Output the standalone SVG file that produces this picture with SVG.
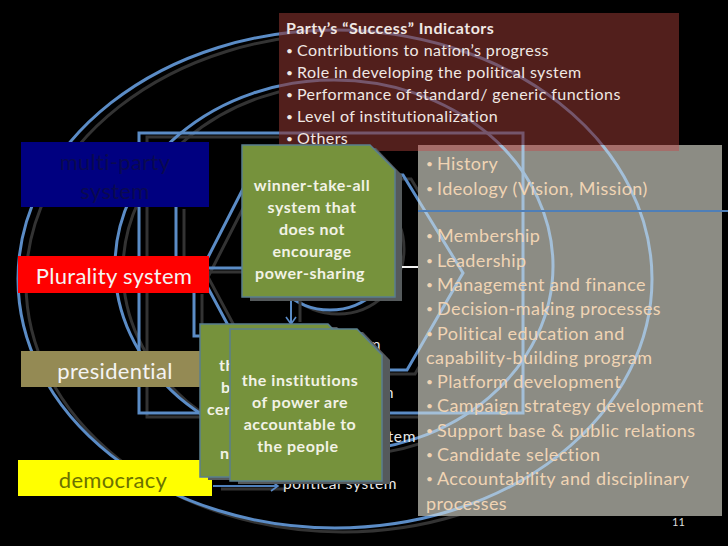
<svg xmlns="http://www.w3.org/2000/svg" width="728" height="546" viewBox="0 0 728 546">
<style>
text{font-family:"Lato","Carlito","Liberation Sans",sans-serif}
.lbl{font-size:22px;text-anchor:middle;fill:#f4f4f4;letter-spacing:.3px}
.gt{font-size:16px;font-weight:700;fill:#f2f2e6;text-anchor:middle;letter-spacing:.55px}
.mt{font-size:16px;fill:#f0e8e4;letter-spacing:.44px}
.ht{font-size:18px;fill:#f0d4b4;letter-spacing:.42px}
.pt{font-size:15.5px;fill:#e8e8e8;letter-spacing:.6px}
.b{font-size:12px;letter-spacing:0}
.grn{fill:#76923c;stroke:#5a7f8f;stroke-width:1.5}
.shd{fill:#555a5c}
</style>
<defs>
<g id="lines" fill="none" stroke-width="3">
<ellipse cx="335" cy="279" rx="317" ry="249"/>
<ellipse cx="334" cy="266" rx="219" ry="186"/>
<ellipse cx="330" cy="245" rx="66" ry="65"/>
<path d="M250 175H403L463 273L407 370H252L200 273Z"/>
<rect x="139" y="133" width="384" height="280"/>
<path d="M176 205V268H243"/>
<path d="M194 290V336H202"/>
</g>
<clipPath id="cm"><rect x="279" y="13" width="400" height="138"/></clipPath>
<clipPath id="cg"><rect x="418" y="145" width="304" height="371"/></clipPath>
<marker id="ah" markerWidth="10" markerHeight="12" refX="8" refY="6" orient="auto" markerUnits="userSpaceOnUse"><path d="M1 1L8 6L1 11" fill="none" stroke="#5a8ac6" stroke-width="1.6"/></marker>
</defs>
<rect width="728" height="546" fill="#000"/>
<g id="connectors">
<use href="#lines" x="8" y="4" stroke="#333"/>
<use href="#lines" stroke="#5b8cc6"/>
<path d="M398 267H420" stroke="#f2f2f2" stroke-width="2" fill="none"/>
<path d="M300 298V322" stroke="#333" stroke-width="3" fill="none"/>
<path d="M291 298V324" stroke="#5b8cc6" stroke-width="2" fill="none" marker-end="url(#ah)"/>
<path d="M221 489H285" stroke="#333" stroke-width="3" fill="none"/>
<path d="M213 486H278" stroke="#4f81bd" stroke-width="2" fill="none" marker-end="url(#ah)"/>
</g>
<g id="hidden-labels">
<text class="pt" x="381" y="350" text-anchor="end">m</text>
<text class="pt" x="394" y="398" text-anchor="end">m</text>
<text class="pt" x="416" y="442" text-anchor="end">stem</text>
<text class="pt" x="283" y="489">political system</text>
</g>
<g id="multi-party"><rect x="21" y="142" width="188" height="65" fill="#000080"/>
<text class="lbl" x="115" y="170" style="fill:#0a0a50">multi-party</text><text class="lbl" x="115" y="199" style="fill:#0a0a50">system</text></g>
<g id="plurality"><rect x="18" y="256" width="191" height="37" fill="#f00"/><text class="lbl" x="114" y="284">Plurality system</text></g>
<g id="presidential"><rect x="21" y="351" width="185" height="36" fill="#948a54"/><text class="lbl" x="115" y="379">presidential</text></g>
<g id="democracy"><rect x="18" y="460" width="194" height="36" fill="#ff0"/><text class="lbl" x="113" y="488" style="fill:#6b7200">democracy</text></g>
<g id="indicators">
<rect x="279" y="13" width="400" height="138" fill="#521f1c"/>
<use href="#lines" clip-path="url(#cm)" stroke="#75566c"/>
<text class="mt" x="286" y="34" style="font-weight:700;letter-spacing:.5px">Party’s “Success” Indicators</text>
<text class="mt" x="286" y="56"><tspan class="b" dy="-1">•</tspan><tspan x="297" dy="1">Contributions to nation’s progress</tspan></text>
<text class="mt" x="286" y="78"><tspan class="b" dy="-1">•</tspan><tspan x="297" dy="1">Role in developing the political system</tspan></text>
<text class="mt" x="286" y="100"><tspan class="b" dy="-1">•</tspan><tspan x="297" dy="1">Performance of standard/ generic functions</tspan></text>
<text class="mt" x="286" y="122"><tspan class="b" dy="-1">•</tspan><tspan x="297" dy="1">Level of institutionalization</tspan></text>
<text class="mt" x="286" y="144"><tspan class="b" dy="-1">•</tspan><tspan x="297" dy="1">Others</tspan></text>
</g>
<g id="attributes">
<rect x="418" y="145" width="304" height="371" fill="#8c8c84"/>
<rect x="418" y="145" width="261" height="6" fill="#a56e6a"/>
<use href="#lines" clip-path="url(#cg)" stroke="#a3bfd8"/>
<path d="M418 211H728" stroke="#4f7fb8" stroke-width="2" fill="none"/>
<text class="ht" x="426" y="170"><tspan class="b" dy="-2">•</tspan><tspan x="437" dy="2">History</tspan></text>
<text class="ht" x="426" y="195"><tspan class="b" dy="-2">•</tspan><tspan x="437" dy="2">Ideology (Vision, Mission)</tspan></text>
<text class="ht" x="426" y="242"><tspan class="b" dy="-2">•</tspan><tspan x="437" dy="2">Membership</tspan></text>
<text class="ht" x="426" y="267"><tspan class="b" dy="-2">•</tspan><tspan x="437" dy="2">Leadership</tspan></text>
<text class="ht" x="426" y="291"><tspan class="b" dy="-2">•</tspan><tspan x="437" dy="2">Management and finance</tspan></text>
<text class="ht" x="426" y="315"><tspan class="b" dy="-2">•</tspan><tspan x="437" dy="2">Decision-making processes</tspan></text>
<text class="ht" x="426" y="340"><tspan class="b" dy="-2">•</tspan><tspan x="437" dy="2">Political education and</tspan></text>
<text class="ht" x="426" y="364">capability-building program</text>
<text class="ht" x="426" y="388"><tspan class="b" dy="-2">•</tspan><tspan x="437" dy="2">Platform development</tspan></text>
<text class="ht" x="426" y="412"><tspan class="b" dy="-2">•</tspan><tspan x="437" dy="2">Campaign strategy development</tspan></text>
<text class="ht" x="426" y="437"><tspan class="b" dy="-2">•</tspan><tspan x="437" dy="2">Support base &amp; public relations</tspan></text>
<text class="ht" x="426" y="461"><tspan class="b" dy="-2">•</tspan><tspan x="437" dy="2">Candidate selection</tspan></text>
<text class="ht" x="426" y="485"><tspan class="b" dy="-2">•</tspan><tspan x="437" dy="2">Accountability and disciplinary</tspan></text>
<text class="ht" x="426" y="510">processes</text>
</g>
<g id="winner">
<path class="shd" d="M250 148H376L402 175V301H250Z"/>
<path class="grn" d="M242 145H370L395 170V297H242Z"/>
<text class="gt" x="312" y="191">winner-take-all</text><text class="gt" x="312" y="213">system that</text><text class="gt" x="312" y="235">does not</text><text class="gt" x="312" y="257">encourage</text><text class="gt" x="310" y="279">power-sharing</text>
</g>
<g id="center-note">
<path class="shd" d="M208 327H337L360 350V480H208Z"/>
<path class="grn" d="M200 324H328L352 349V477H200Z"/>
<text class="gt" x="219" y="371" style="text-anchor:start">th</text><text class="gt" x="221" y="393" style="text-anchor:start">b</text><text class="gt" x="207" y="415" style="text-anchor:start">cer</text><text class="gt" x="220" y="459" style="text-anchor:start">n</text>
</g>
<g id="accountable">
<path class="shd" d="M238 332H363L390 360V484H238Z"/>
<path class="grn" d="M230 329H357L382 355V481H230Z"/>
<text class="gt" x="300" y="386">the institutions</text><text class="gt" x="300" y="408">of power are</text><text class="gt" x="300" y="430">accountable to</text><text class="gt" x="298" y="452">the people</text>
</g>
<text x="672" y="526" fill="#ddd" style="font-size:11px">11</text>
</svg>
